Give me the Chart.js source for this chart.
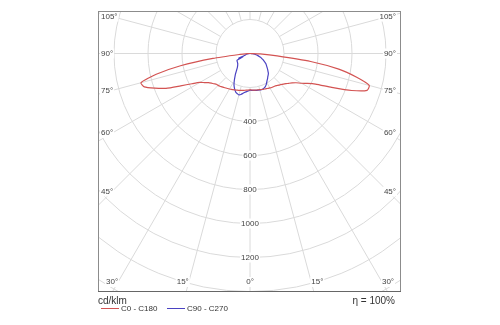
<!DOCTYPE html>
<html>
<head>
<meta charset="utf-8">
<script src="https://cdn.jsdelivr.net/npm/chart.js@4.4.1/dist/chart.umd.min.js"></script>
<style>
  html, body { margin: 0; padding: 0; background: #fff; }
  canvas { display: block; }
</style>
</head>
<body>
<canvas id="polarChart" width="500" height="325"></canvas>
<script>
// gamma angles (0 = straight down) and intensities in cd/klm
const gammaAngles = [0, 2.5, 5, 7.5, 10, 12.5, 15, 17.5, 20, 22.5, 25, 27.5, 30, 32.5, 35, 37.5, 40, 42.5,
  45, 47.5, 50, 52.5, 55, 57.5, 60, 62.5, 65, 67.5, 70, 72.5, 75, 77.5, 80, 82.5, 85, 87.5, 90];

const c0 = [214, 215, 216, 217, 218, 219, 220, 222, 224, 226, 228, 231, 234, 237, 239, 241, 246, 252,
  258, 266, 276, 288, 302, 320, 350, 380, 425, 520, 636, 722, 726, 640, 530, 360, 160, 60, 0];
const c180 = [214, 215, 216, 218, 220, 222, 224, 227, 229, 232, 235, 238, 241, 244, 248, 252, 256, 261,
  265, 268, 277, 286, 298, 318, 340, 385, 450, 535, 596, 652, 664, 565, 415, 220, 60, 15, 0];
const c90 = [216, 217, 218, 219, 220, 221, 222, 223, 223, 219, 214, 206, 196, 187, 180, 172, 166, 160,
  150, 141, 132, 124, 117, 110, 100, 91, 83, 74, 66, 57, 48, 40, 32, 24, 16, 8, 0];
const c270 = [216, 220, 225, 230, 238, 247, 252, 248, 243, 232, 219, 204, 185, 166, 150, 133, 120, 110,
  103, 98, 94, 92, 90, 89, 88, 86, 45, 72, 35, 30, 26, 22, 18, 14, 10, 5, 0];

const ringValues = [200, 400, 600, 800, 1000, 1200, 1400, 1600, 1800];
const ringLabels = [400, 600, 800, 1000, 1200];
const spokeStep = 15;
const angleLabels = [105, 90, 75, 60, 45, 30, 15, 0];

const planeNames = ["C0 - C180", "C90 - C270"];
const planeColors = ["#d35352", "#4a42c2"];

const rad = d => d * Math.PI / 180;

// one closed outline: left half plane from 90 down to 0, right half from 0 up to 90
function planePoints(left, right) {
  const pts = [];
  for (let i = gammaAngles.length - 1; i >= 0; i--) {
    const g = rad(gammaAngles[i]);
    pts.push({ x: -left[i] * Math.sin(g), y: -left[i] * Math.cos(g) });
  }
  for (let i = 1; i < gammaAngles.length; i++) {
    const g = rad(gammaAngles[i]);
    pts.push({ x: right[i] * Math.sin(g), y: -right[i] * Math.cos(g) });
  }
  return pts;
}

const gridColor = "#dadada";
const labelFont = "8px 'Liberation Sans', Arial, sans-serif";

function labelBox(ctx, text, x, y, align) {
  const w = ctx.measureText(text).width;
  let left = x;
  if (align === "center") left = x - w / 2;
  else if (align === "right") left = x - w;
  ctx.fillStyle = "#fff";
  ctx.fillRect(left - 1, y - 5, w + 2, 10);
  ctx.fillStyle = "#444";
  ctx.textAlign = align;
  ctx.fillText(text, x, y);
}

// polar grid, ring values and angle labels
const polarGrid = {
  id: "polarGrid",
  beforeDatasetsDraw(chart) {
    const { ctx, chartArea: a, scales: { x, y } } = chart;
    const cx = x.getPixelForValue(0);
    const cy = y.getPixelForValue(0);
    const k = x.getPixelForValue(1000) - cx; // px per 1000 cd/klm
    const toR = v => v * k / 1000;
    const farR = Math.hypot(a.right - a.left, a.bottom - a.top) * 2;

    ctx.save();
    ctx.beginPath();
    ctx.rect(a.left, a.top, a.right - a.left, a.bottom - a.top);
    ctx.clip();
    ctx.strokeStyle = gridColor;
    ctx.lineWidth = 1;

    ringValues.forEach(v => {
      ctx.beginPath();
      ctx.arc(cx, cy, toR(v), 0, Math.PI * 2);
      ctx.stroke();
    });

    const r0 = toR(ringValues[0]);
    for (let d = 0; d < 360; d += spokeStep) {
      const s = Math.sin(rad(d)), c = Math.cos(rad(d));
      ctx.beginPath();
      ctx.moveTo(cx + r0 * s, cy + r0 * c);
      ctx.lineTo(cx + farR * s, cy + farR * c);
      ctx.stroke();
    }

    ctx.font = labelFont;
    ctx.textBaseline = "middle";

    ringLabels.forEach(v => labelBox(ctx, String(v), cx, cy + toR(v), "center"));

    // side labels sit against the frame, at the height where the spoke passes x = left + 14
    const sideInset = 14;
    const bottomY = a.bottom - 9;
    angleLabels.forEach(d => {
      const t = Math.tan(rad(d));
      const sideX = cx - (a.left + sideInset);
      const hitsSide = d >= 90 || sideX / t + cy < a.bottom;
      if (hitsSide) {
        const yy = d === 90 ? cy : cy + sideX / t;
        labelBox(ctx, d + "°", a.left + 3, yy, "left");
        labelBox(ctx, d + "°", a.right - 5, yy, "right");
      } else if (d === 0) {
        labelBox(ctx, "0°", cx, bottomY, "center");
      } else {
        const off = (bottomY - cy) * t;
        labelBox(ctx, d + "°", cx - off, bottomY, "right");
        labelBox(ctx, d + "°", cx + off, bottomY, "left");
      }
    });
    ctx.restore();
  },
  afterDraw(chart) {
    const { ctx, chartArea: a } = chart;
    ctx.save();
    ctx.strokeStyle = "#8c8c8c";
    ctx.lineWidth = 1;
    ctx.strokeRect(a.left + 0.5, a.top + 0.5, a.right - a.left - 1, a.bottom - a.top);
    ctx.strokeStyle = "#666";
    ctx.beginPath();
    ctx.moveTo(a.left, a.bottom + 0.5);
    ctx.lineTo(a.right, a.bottom + 0.5);
    ctx.stroke();

    // unit, legend and efficiency
    ctx.fillStyle = "#333";
    ctx.textBaseline = "middle";
    ctx.font = "10px 'Liberation Sans', Arial, sans-serif";
    ctx.textAlign = "left";
    ctx.fillText("cd/klm", a.left, a.bottom + 10);
    ctx.textAlign = "right";
    ctx.fillText("η = 100%", a.right - 6, a.bottom + 10);

    ctx.font = labelFont;
    ctx.textAlign = "left";
    const ly = a.bottom + 17.5;
    let lx = a.left + 3;
    chart.data.datasets.forEach(ds => {
      ctx.strokeStyle = ds.borderColor;
      ctx.beginPath();
      ctx.moveTo(lx, ly);
      ctx.lineTo(lx + 18, ly);
      ctx.stroke();
      ctx.fillStyle = "#333";
      ctx.fillText(ds.label, lx + 20, ly);
      lx += 66;
    });
    ctx.restore();
  }
};

new Chart(document.getElementById("polarChart"), {
  type: "scatter",
  data: {
    datasets: [
      { label: planeNames[0], data: planePoints(c180, c0), borderColor: planeColors[0] },
      { label: planeNames[1], data: planePoints(c270, c90), borderColor: planeColors[1] },
    ].map(ds => ({ ...ds, showLine: true, pointRadius: 0, borderWidth: 1.2, tension: 0.2, fill: false })),
  },
  options: {
    responsive: false,
    animation: false,
    devicePixelRatio: 1,
    layout: { padding: { left: 98, right: 99, top: 11, bottom: 34 } },
    scales: {
      x: { type: "linear", min: -894, max: 888, display: false },
      y: { type: "linear", min: -1397, max: 250, display: false },
    },
    plugins: { legend: { display: false }, tooltip: { enabled: false } },
  },
  plugins: [polarGrid],
});
</script>
</body>
</html>
